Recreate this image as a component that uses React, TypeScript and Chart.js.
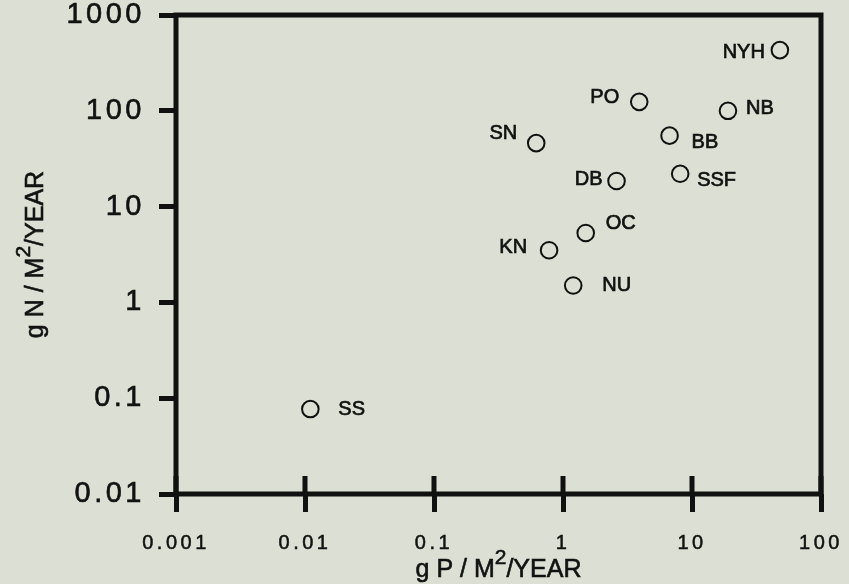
import { useEffect, useRef } from "react";
import { Chart, registerables } from "chart.js";

Chart.register(...registerables);

// Annual nitrogen vs. phosphorus loading per site (g/m²/year)
const sites = ["NYH", "PO", "NB", "SN", "BB", "DB", "SSF", "OC", "KN", "NU", "SS"];
const phosphorusLoad = [48, 3.9, 19, 0.62, 6.7, 2.6, 8.1, 1.5, 0.78, 1.2, 0.011];
const nitrogenLoad = [430, 124, 100, 46, 55, 18.5, 22, 5.3, 3.5, 1.5, 0.077];

const xTickValues = [0.001, 0.01, 0.1, 1, 10, 100];
const yTickValues = [0.01, 0.1, 1, 10, 100, 1000];

const xTitleParts = ["g P / M", "2", "/YEAR"];
const yTitleParts = ["g N / M", "2", "/YEAR"];

// Where each site name sits relative to its marker: [dx, dy, align]
const labelPlacement: [number, number, CanvasTextAlign][] = [
  [-15, 2, "right"], // NYH
  [-20, -4, "right"], // PO
  [18, -2, "left"], // NB
  [-19, -10, "right"], // SN
  [22, 7, "left"], // BB
  [-14, -2, "right"], // DB
  [17, 7, "left"], // SSF
  [20, -10, "left"], // OC
  [-22, -3, "right"], // KN
  [29, 0, "left"], // NU
  [28, 0, "left"], // SS
];

const BG = "#dcdfd3";
const INK = "#111111";
const FONT = "'Liberation Sans', Arial, Helvetica, sans-serif";
const FRAME_WIDTH = 5;
const TICK_LEN = 18;

function drawSuperscriptTitle(
  ctx: CanvasRenderingContext2D,
  parts: string[],
  cx: number,
  baseline: number
) {
  const mainFont = `25px ${FONT}`;
  const supFont = `21px ${FONT}`;
  ctx.font = mainFont;
  const w0 = ctx.measureText(parts[0]).width;
  const w2 = ctx.measureText(parts[2]).width;
  ctx.font = supFont;
  const w1 = ctx.measureText(parts[1]).width;
  const total = w0 + w1 + w2;
  let x = cx - total / 2;
  ctx.textAlign = "left";
  ctx.textBaseline = "alphabetic";
  ctx.fillStyle = INK;
  ctx.strokeStyle = INK;
  ctx.lineWidth = 0.6;
  const put = (t: string, px: number, py: number) => {
    ctx.strokeText(t, px, py);
    ctx.fillText(t, px, py);
  };
  ctx.font = mainFont;
  put(parts[0], x, baseline);
  x += w0;
  ctx.font = supFont;
  put(parts[1], x, baseline - 13);
  x += w1;
  ctx.font = mainFont;
  put(parts[2], x, baseline);
}

const framePlugin = {
  id: "frameAndLabels",
  beforeDraw(chart: any) {
    const { ctx, width, height } = chart;
    ctx.save();
    ctx.fillStyle = BG;
    ctx.fillRect(0, 0, width, height);
    ctx.restore();
    // wide tracking for the axis numbers
    ctx.letterSpacing = "3.5px";
  },
  beforeDatasetsDraw(chart: any) {
    const { ctx, chartArea } = chart;
    ctx.letterSpacing = "0px";
    ctx.save();
    ctx.strokeStyle = INK;
    ctx.lineWidth = FRAME_WIDTH;
    ctx.strokeRect(
      chartArea.left,
      chartArea.top,
      chartArea.right - chartArea.left,
      chartArea.bottom - chartArea.top
    );
    // x ticks also reach inward from the bottom axis
    const xs = chart.scales.x;
    ctx.beginPath();
    xTickValues.forEach((v) => {
      const px = xs.getPixelForValue(v);
      ctx.moveTo(px, chartArea.bottom);
      ctx.lineTo(px, chartArea.bottom - TICK_LEN);
    });
    ctx.stroke();
    ctx.restore();
  },
  afterDatasetsDraw(chart: any) {
    const { ctx } = chart;
    const meta = chart.getDatasetMeta(0);
    ctx.save();
    ctx.letterSpacing = "0px";
    ctx.font = `20px ${FONT}`;
    ctx.fillStyle = INK;
    ctx.strokeStyle = INK;
    ctx.lineWidth = 0.7;
    ctx.textBaseline = "middle";
    meta.data.forEach((pt: any, i: number) => {
      const [dx, dy, align] = labelPlacement[i];
      ctx.textAlign = align;
      ctx.strokeText(sites[i], pt.x + dx, pt.y + dy);
      ctx.fillText(sites[i], pt.x + dx, pt.y + dy);
    });
    ctx.restore();
  },
  afterDraw(chart: any) {
    const { ctx, chartArea } = chart;
    ctx.save();
    ctx.letterSpacing = "0px";
    drawSuperscriptTitle(ctx, xTitleParts, (chartArea.left + chartArea.right) / 2, 577);
    ctx.translate(43, (chartArea.top + chartArea.bottom) / 2);
    ctx.rotate(-Math.PI / 2);
    drawSuperscriptTitle(ctx, yTitleParts, 0, 0);
    ctx.restore();
    ctx.letterSpacing = "0px";
  },
};

export default function App() {
  const canvasRef = useRef<HTMLCanvasElement | null>(null);

  useEffect(() => {
    if (!canvasRef.current) return;
    const points = phosphorusLoad.map((p, i) => ({ x: p, y: nitrogenLoad[i] }));
    const chart = new Chart(canvasRef.current, {
      type: "scatter",
      data: {
        datasets: [
          {
            data: points,
            pointRadius: 8.3,
            pointHoverRadius: 8.3,
            pointBorderWidth: 2,
            pointBackgroundColor: "rgba(0,0,0,0)",
            pointBorderColor: INK,
          },
        ],
      },
      options: {
        responsive: false,
        animation: false,
        devicePixelRatio: 1,
        events: [],
        layout: { padding: { top: 15, right: 28, left: 0, bottom: 0 } },
        plugins: {
          legend: { display: false },
          tooltip: { enabled: false },
          title: { display: false },
        },
        scales: {
          x: {
            type: "logarithmic",
            min: 0.001,
            max: 100,
            border: { display: false },
            grid: {
              drawOnChartArea: false,
              drawTicks: true,
              tickLength: TICK_LEN,
              lineWidth: FRAME_WIDTH,
              color: INK,
            },
            ticks: {
              autoSkip: false,
              maxRotation: 0,
              padding: 19,
              color: INK,
              textStrokeColor: INK,
              textStrokeWidth: 0.5,
              font: { family: FONT, size: 20 },
              callback: (v: any) => String(v),
            },
            afterBuildTicks: (s: any) => {
              s.ticks = xTickValues.map((v) => ({ value: v }));
            },
            afterFit: (s: any) => {
              s.height = 90;
              s.paddingLeft = 0;
              s.paddingRight = 0;
            },
          },
          y: {
            type: "logarithmic",
            min: 0.01,
            max: 1000,
            border: { display: false },
            grid: {
              drawOnChartArea: false,
              drawTicks: true,
              tickLength: 17,
              lineWidth: FRAME_WIDTH,
              color: INK,
            },
            ticks: {
              autoSkip: false,
              padding: 14,
              color: INK,
              textStrokeColor: INK,
              textStrokeWidth: 0.6,
              font: { family: FONT, size: 29 },
              callback: (v: any) => String(v),
            },
            afterBuildTicks: (s: any) => {
              s.ticks = yTickValues.map((v) => ({ value: v }));
            },
            afterFit: (s: any) => {
              s.width = 176;
              s.paddingTop = 0;
              s.paddingBottom = 0;
            },
          },
        },
      },
      plugins: [framePlugin],
    });
    return () => chart.destroy();
  }, []);

  return (
    <div
      style={{
        position: "fixed",
        left: 0,
        top: 0,
        width: 849,
        height: 584,
        background: BG,
      }}
    >
      <canvas ref={canvasRef} width={849} height={584} />
    </div>
  );
}
